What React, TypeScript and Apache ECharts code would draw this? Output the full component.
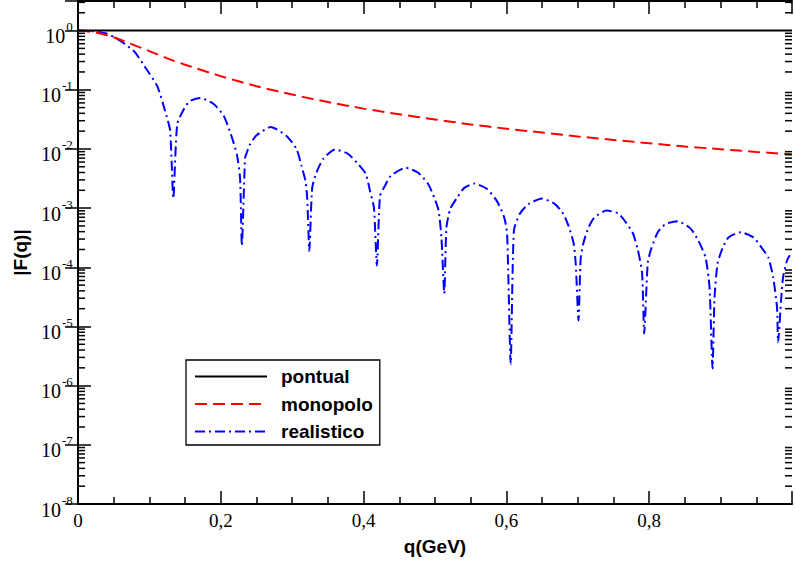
import React, { useEffect, useRef } from 'react';
import * as echarts from 'echarts';

const legendNames = ['pontual', 'monopolo', 'realistico'];

const pontualQ = [0, 1];
const pontualF = [1, 1];

const monoQ = [0, 0.025, 0.05, 0.075, 0.1, 0.125, 0.15, 0.2, 0.25, 0.3, 0.35, 0.4, 0.45, 0.5, 0.55, 0.6, 0.65, 0.7, 0.75, 0.8, 0.85, 0.9, 0.95, 1.0];
const monoF = [1, 0.93, 0.77, 0.59, 0.45, 0.34, 0.265, 0.17, 0.115, 0.083, 0.062, 0.048, 0.0385, 0.0315, 0.026, 0.022, 0.0189, 0.0163, 0.0142, 0.0125, 0.011, 0.0099, 0.0089, 0.0081];

const realQ = [
  0, 0.02, 0.04, 0.06, 0.079, 0.093, 0.111, 0.122, 0.129, 0.1335,
  0.139, 0.149, 0.157, 0.171, 0.19, 0.204, 0.214, 0.2225, 0.227, 0.2295,
  0.234, 0.2365, 0.2405, 0.25, 0.27, 0.292, 0.306, 0.313, 0.3185, 0.321, 0.324,
  0.328, 0.334, 0.3435, 0.36, 0.378, 0.392, 0.403, 0.409, 0.4145, 0.4186,
  0.423, 0.43, 0.438, 0.459, 0.476, 0.49, 0.499, 0.505, 0.509, 0.513,
  0.516, 0.5215, 0.531, 0.541, 0.555, 0.573, 0.587, 0.597, 0.601, 0.606,
  0.6105, 0.619, 0.631, 0.65, 0.668, 0.68, 0.687, 0.694, 0.697, 0.701,
  0.704, 0.708, 0.715, 0.723, 0.74, 0.757, 0.768, 0.777, 0.784, 0.79, 0.793,
  0.798, 0.8025, 0.812, 0.823, 0.84, 0.858, 0.869, 0.879, 0.8845, 0.8887,
  0.8915, 0.8957, 0.9026, 0.911, 0.928, 0.946, 0.958, 0.967, 0.9736, 0.979, 0.9805,
  0.985, 0.9875, 0.993, 0.997
];
const realF = [
  1, 0.977, 0.891, 0.665, 0.44, 0.251, 0.115, 0.0437, 0.0204, 1.45e-3,
  0.0263, 0.049, 0.0646, 0.0724, 0.0575, 0.0363, 0.0178, 8.1e-3, 3.2e-3, 2.3e-4,
  7.1e-3, 8.7e-3, 0.0117, 0.017, 0.0234, 0.0166, 0.01, 5.2e-3, 2.9e-3, 1.5e-3, 1.9e-4,
  2.2e-3, 4.0e-3, 6.8e-3, 9.8e-3, 8.3e-3, 5.6e-3, 3.8e-3, 1.95e-3, 1.02e-3, 1.07e-4,
  1.6e-3, 2.4e-3, 3.5e-3, 4.8e-3, 4.0e-3, 2.6e-3, 1.5e-3, 9.1e-4, 3.2e-4, 3.6e-5,
  4.7e-4, 9.8e-4, 1.5e-3, 2.2e-3, 2.6e-3, 2.1e-3, 1.3e-3, 6.9e-4, 3.7e-4, 2.3e-6,
  4.2e-4, 8.1e-4, 1.17e-3, 1.45e-3, 1.17e-3, 7.9e-4, 5.0e-4, 2.6e-4, 1.2e-4, 1.26e-5,
  1.4e-4, 2.6e-4, 4.7e-4, 6.9e-4, 9.1e-4, 8.1e-4, 5.6e-4, 3.8e-4, 2.0e-4, 8.1e-5, 7.6e-6,
  1.2e-4, 2.0e-4, 3.9e-4, 5.4e-4, 6.0e-4, 4.5e-4, 2.8e-4, 1.45e-4, 4.6e-5, 1.95e-6,
  3.1e-5, 1.15e-4, 2.1e-4, 3.2e-4, 3.9e-4, 3.2e-4, 2.1e-4, 1.45e-4, 6.8e-5, 2.1e-5, 5.4e-6,
  3.1e-5, 6.8e-5, 1.3e-4, 1.6e-4
];

const xTickLabels = ['0', '0,2', '0,4', '0,6', '0,8'];
const yExponents = [-8, -7, -6, -5, -4, -3, -2, -1, 0];
const minorMultipliers = [2, 3, 4, 5, 6, 7, 8, 9];

const X_MIN = 0;
const X_MAX = 1;
const Y_MIN = 1e-8;
const Y_MAX = Math.pow(10, 0.5);

const zip = (a: number[], b: number[]) => a.map((v, i) => [v, b[i]]);

export default function App() {
  const ref = useRef<HTMLDivElement>(null);
  useEffect(() => {
    if (!ref.current) return;
    const chart = echarts.init(ref.current, undefined, { renderer: 'svg' });

    const minorVals: number[][] = [];
    yExponents.forEach((e) => {
      minorMultipliers.forEach((m) => {
        const v = m * Math.pow(10, e);
        if (v <= Y_MAX) minorVals.push([0, v]);
      });
    });

    const serif = 'Liberation Serif';
    const sans = 'Liberation Sans';

    const xAxisBase = {
      type: 'value',
      min: X_MIN,
      max: X_MAX,
      interval: 0.2,
      splitLine: { show: false },
      axisLine: { lineStyle: { color: '#000', width: 2 } },
      axisTick: { inside: true, length: 13, lineStyle: { color: '#000', width: 1.5 } },
      minorTick: { show: true, splitNumber: 4, length: 7, lineStyle: { color: '#000', width: 1.5 } },
    };
    const yAxisBase = {
      type: 'log',
      logBase: 10,
      min: Y_MIN,
      max: Y_MAX,
      interval: 1,
      splitLine: { show: false },
      axisLine: { lineStyle: { color: '#000', width: 2 } },
      axisTick: { inside: true, length: 13, lineStyle: { color: '#000', width: 1.5 } },
    };

    chart.setOption({
      animation: false,
      backgroundColor: '#fff',
      grid: { left: 78, top: 1, right: -2, bottom: 59, containLabel: false },
      xAxis: [
        {
          ...xAxisBase,
          position: 'bottom',
          name: 'q(GeV)',
          nameLocation: 'middle',
          nameGap: 33,
          nameTextStyle: { fontFamily: sans, fontWeight: 'bold', fontSize: 19, color: '#000' },
          axisLabel: {
            margin: 7,
            fontFamily: serif,
            fontSize: 19,
            color: '#000',
            formatter: (v: number) => {
              const i = Math.round(v / 0.2);
              if (Math.abs(v - i * 0.2) > 1e-6) return '';
              return xTickLabels[i] ?? '';
            },
          },
        },
        {
          ...xAxisBase,
          position: 'top',
          axisLabel: { show: false },
        },
      ],
      yAxis: [
        {
          ...yAxisBase,
          position: 'left',
          name: '|F(q)|',
          nameLocation: 'middle',
          nameGap: 47,
          nameRotate: 90,
          nameTextStyle: { fontFamily: sans, fontWeight: 'bold', fontSize: 19, color: '#000' },
          axisLabel: {
            margin: 5,
            padding: [5, 0, 0, 0],
            formatter: (v: number) => {
              const e = Math.log10(v);
              const r = Math.round(e);
              if (Math.abs(e - r) > 1e-6 || !yExponents.includes(r)) return '';
              return `{b|10}{s|${r}}{h| }`;
            },
            rich: {
              b: { fontFamily: serif, fontSize: 20, lineHeight: 20, color: '#000', verticalAlign: 'bottom' },
              s: { fontFamily: serif, fontSize: 13, lineHeight: 13, color: '#000', verticalAlign: 'top', padding: [0, 0, 0, 1] },
              h: { fontFamily: serif, fontSize: 1, lineHeight: 26, color: '#000' },
            },
          },
        },
        {
          ...yAxisBase,
          position: 'right',
          axisLabel: { show: false },
        },
      ],
      legend: {
        orient: 'vertical',
        left: 186,
        top: 360,
        data: legendNames,
        backgroundColor: '#fff',
        borderColor: '#000',
        borderWidth: 1.3,
        borderRadius: 0,
        padding: [7, 7, 4, 8],
        itemGap: 8.5,
        itemWidth: 72,
        itemHeight: 14,
        selectedMode: false,
        itemStyle: { opacity: 0 },
        textStyle: { fontFamily: sans, fontWeight: 'bold', fontSize: 19, lineHeight: 18, color: '#000', padding: [0, 0, 0, 9] },
      },
      series: [
        {
          name: legendNames[2],
          type: 'line',
          data: zip(realQ, realF),
          symbol: 'none',
          smooth: 0.2,
          lineStyle: { color: '#0000ff', width: 2, type: [10, 4, 2, 4] },
          z: 3,
        },
        {
          name: legendNames[1],
          type: 'line',
          data: zip(monoQ, monoF),
          symbol: 'none',
          smooth: 0.3,
          lineStyle: { color: '#ff0000', width: 2, type: [12, 6] },
          z: 4,
        },
        {
          name: legendNames[0],
          type: 'line',
          data: zip(pontualQ, pontualF),
          symbol: 'none',
          lineStyle: { color: '#000', width: 2, type: 'solid' },
          z: 5,
        },
        {
          type: 'custom',
          silent: true,
          data: minorVals,
          encode: { x: 0, y: 1 },
          z: 6,
          renderItem: (params: any, api: any) => {
            const v = api.value(1);
            const p0 = api.coord([X_MIN, v]);
            const p1 = api.coord([X_MAX, v]);
            const st = { stroke: '#000', lineWidth: 1.5 };
            return {
              type: 'group',
              children: [
                { type: 'line', shape: { x1: p0[0], y1: p0[1], x2: p0[0] + 7, y2: p0[1] }, style: st },
                { type: 'line', shape: { x1: p1[0] - 7, y1: p1[1], x2: p1[0], y2: p1[1] }, style: st },
              ],
            };
          },
        },
      ],
    });
    return () => chart.dispose();
  }, []);
  return <div ref={ref} style={{ position: 'fixed', left: 0, top: 0, width: 795, height: 563 }} />;
}
